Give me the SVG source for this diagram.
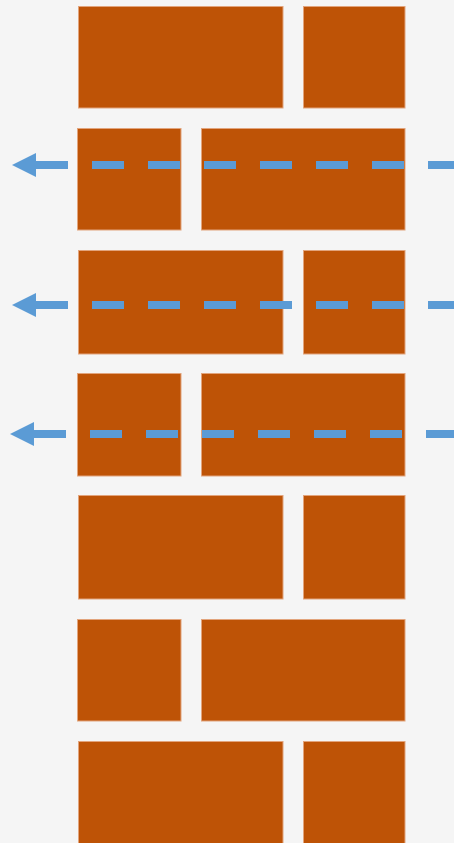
<svg xmlns="http://www.w3.org/2000/svg" width="454" height="843" viewBox="0 0 454 843">
<style>
.brick{fill:#BE5306;stroke:#E2A47C;stroke-width:1}
.flow{fill:none;stroke:#5B9BD5;stroke-width:8;stroke-dasharray:32 24}
</style>
<defs>
<marker id="ah" viewBox="0 0 3 3" markerWidth="3" markerHeight="3" refX="0" refY="1.5" orient="auto-start-reverse" markerUnits="strokeWidth">
<path d="M0,0 L3,1.5 L0,3 Z" fill="#5B9BD5"/>
</marker>
</defs>
<rect width="454" height="843" fill="#F5F5F5"/>
<g id="row1">
<rect id="b1a" class="brick" x="78.5" y="6.5" width="204.5" height="101.5"/>
<rect id="b1b" class="brick" x="303.5" y="6.5" width="101.5" height="101.5"/>
</g>
<g id="row2">
<rect id="b2a" class="brick" x="77.5" y="128.5" width="103.5" height="101.5"/>
<rect id="b2b" class="brick" x="201.5" y="128.5" width="203.5" height="101.5"/>
</g>
<g id="row3">
<rect id="b3a" class="brick" x="78.5" y="250.5" width="204.5" height="103.5"/>
<rect id="b3b" class="brick" x="303.5" y="250.5" width="101.5" height="103.5"/>
</g>
<g id="row4">
<rect id="b4a" class="brick" x="77.5" y="373.5" width="103.5" height="102.5"/>
<rect id="b4b" class="brick" x="201.5" y="373.5" width="203.5" height="102.5"/>
</g>
<g id="row5">
<rect id="b5a" class="brick" x="78.5" y="495.5" width="204.5" height="103.5"/>
<rect id="b5b" class="brick" x="303.5" y="495.5" width="101.5" height="103.5"/>
</g>
<g id="row6">
<rect id="b6a" class="brick" x="77.5" y="619.5" width="103.5" height="101.5"/>
<rect id="b6b" class="brick" x="201.5" y="619.5" width="203.5" height="101.5"/>
</g>
<g id="row7">
<rect id="b7a" class="brick" x="78.5" y="741.5" width="204.5" height="110"/>
<rect id="b7b" class="brick" x="303.5" y="741.5" width="101.5" height="110"/>
</g>
<g id="connectors">
<path class="flow" d="M36,165 H480" marker-start="url(#ah)"/>
<path class="flow" d="M36,305 H480" marker-start="url(#ah)"/>
<path class="flow" d="M34,434 H480" marker-start="url(#ah)"/>
</g>
</svg>
